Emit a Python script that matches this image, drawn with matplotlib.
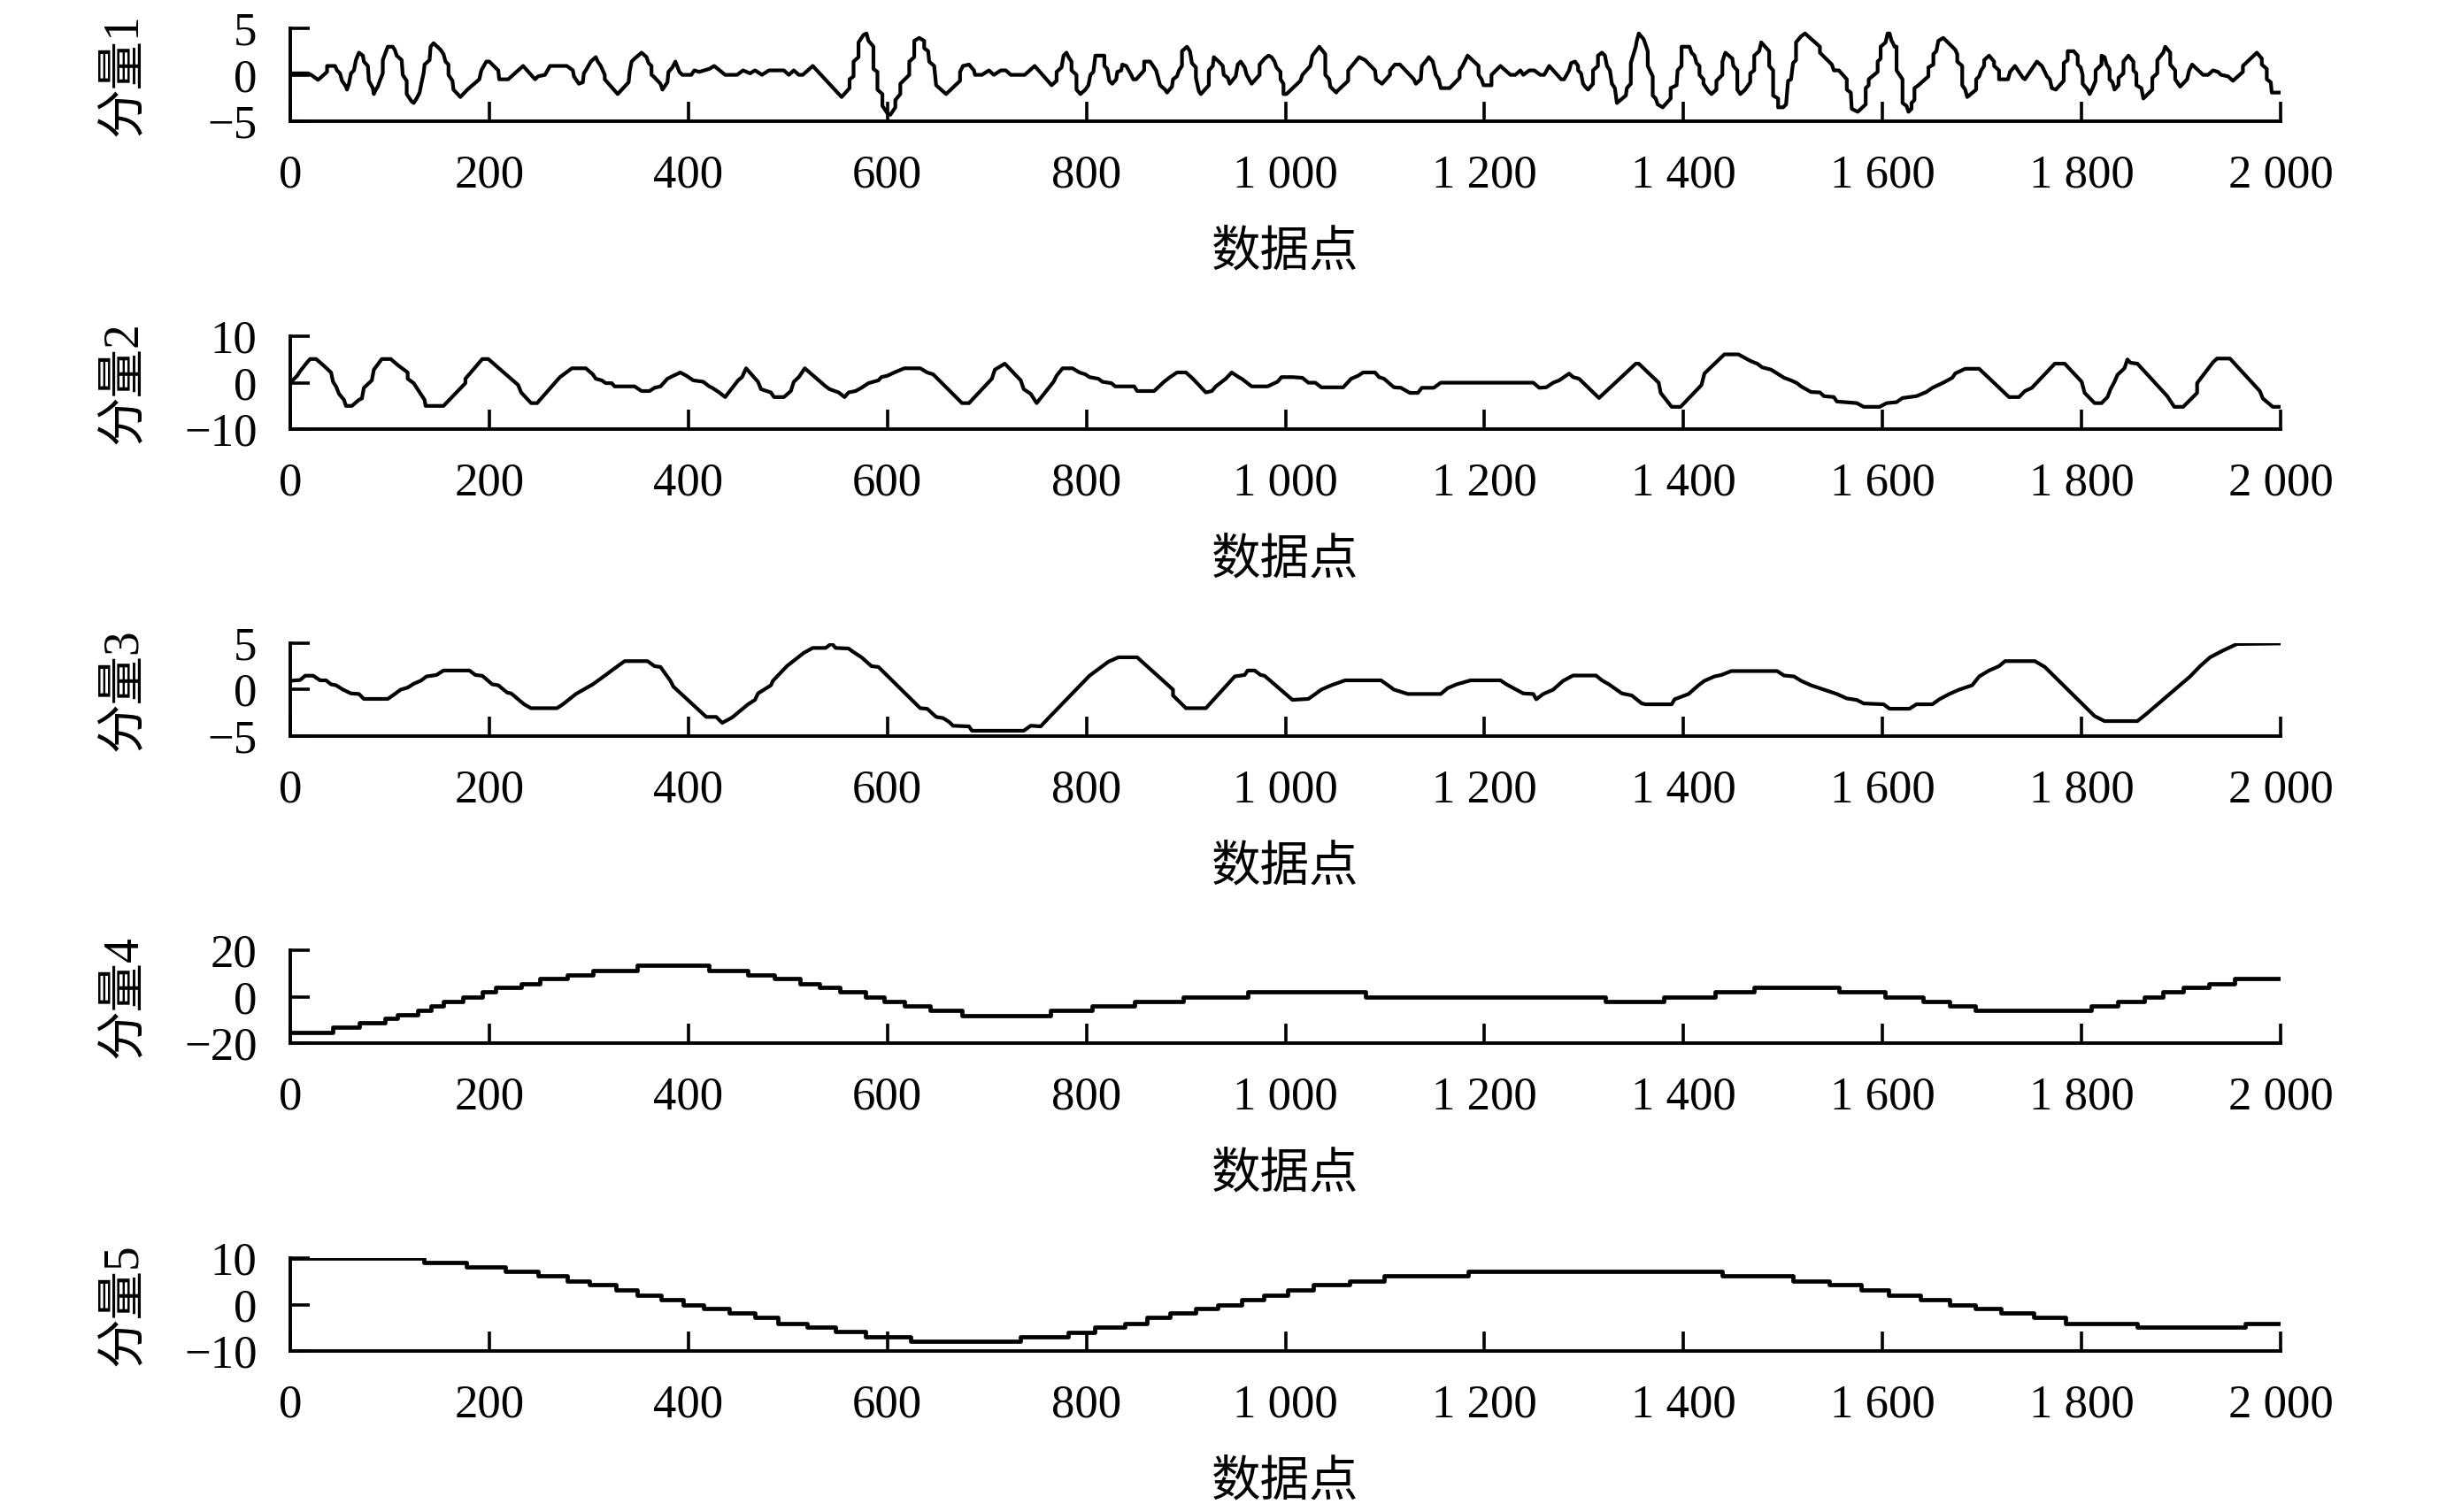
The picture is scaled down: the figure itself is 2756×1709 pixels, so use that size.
import matplotlib
matplotlib.use('Agg')
import matplotlib.pyplot as plt

plt.rcParams['font.family'] = ['Liberation Serif', 'Noto Sans CJK SC']
plt.rcParams['axes.unicode_minus'] = True

# ---------------- data ----------------
x_ticks = [0, 200, 400, 600, 800, 1000, 1200, 1400, 1600, 1800, 2000]
x_tick_labels = ['0', '200', '400', '600', '800', '1 000', '1 200', '1 400', '1 600', '1 800', '2 000']
x_label = '数据点'
y_labels = ['分量1', '分量2', '分量3', '分量4', '分量5']
y_limits = [5, 10, 5, 20, 10]

comp1_x = [0, 18, 21, 28, 37, 37, 45, 47, 50, 52, 56, 57, 59, 61, 64, 66, 69, 73, 74, 78, 79, 83, 84, 86, 88, 90,
           93, 93, 98, 103, 105, 107, 112, 113, 117, 117, 122, 124, 127, 130, 132, 134, 135, 140, 141, 144, 151,
           154, 156, 159, 159, 163, 164, 171, 178, 190, 192, 197, 200, 209, 210, 219, 234, 246, 249, 256, 261,
           278, 284, 285, 290, 294, 295, 297, 302, 307, 309, 312, 316, 316, 329, 340, 341, 343, 346, 353, 358,
           360, 363, 363, 365, 372, 374, 379, 380, 384, 387, 391, 394, 403, 406, 411, 416, 421, 426, 437, 449,
           455, 462, 467, 474, 481,
           491, 496, 501, 506, 511, 515, 525, 554, 562, 562, 566, 566, 571, 571, 576, 579, 581, 585, 586, 586,
           590, 590, 595, 595, 600, 603, 608, 608, 613, 613, 622, 622, 627, 627, 632, 637, 637, 641, 642, 647,
           649, 659, 673, 673, 676, 682, 687, 688, 695, 702, 707, 714, 719, 724, 738, 748, 761, 765, 770, 770,
           775, 777, 780, 782, 785, 785, 790, 790, 794, 799, 802, 804, 807, 809, 818, 818, 821, 823, 826, 830,
           831, 835, 836, 840, 845, 847, 850, 858, 858, 864, 870, 874, 879, 881, 886, 887, 891, 893, 896, 896,
           901, 904, 906, 910, 910, 913, 915, 923, 923, 927, 928, 933, 937, 938, 942, 944, 950, 952, 955, 959,
           961, 966, 974, 974, 979, 983, 986, 989, 991, 995, 995, 998, 998, 1001,
           1015, 1017, 1025, 1027, 1034, 1040, 1040, 1044, 1045, 1051, 1052, 1063, 1063, 1074, 1080, 1090, 1091,
           1097, 1105, 1105, 1110, 1115, 1129, 1131, 1136, 1137, 1142, 1144, 1148, 1151, 1154, 1156, 1165, 1175,
           1175, 1178, 1183, 1194, 1194, 1197, 1199, 1207, 1207, 1216, 1226, 1231, 1236, 1239, 1245, 1250, 1256,
           1260, 1265, 1277, 1280, 1285, 1287, 1291, 1294, 1294, 1297, 1299, 1301, 1304, 1309, 1309, 1314, 1314,
           1318, 1321, 1323, 1326, 1328, 1331, 1333, 1342, 1343, 1347, 1347, 1352, 1353, 1355, 1360, 1364, 1364,
           1369, 1369, 1372, 1374, 1379, 1387, 1387, 1393, 1394, 1398, 1398, 1406, 1408, 1411, 1413, 1416, 1416,
           1420, 1420, 1425, 1428, 1433, 1433, 1439, 1439, 1442, 1449, 1450, 1454, 1454, 1457, 1462, 1464, 1467,
           1467, 1471, 1471, 1476, 1478, 1486, 1486, 1490, 1490, 1495, 1495, 1500, 1503,
           1505, 1508, 1510, 1513, 1513, 1518, 1522, 1537, 1537, 1549, 1551, 1556, 1564, 1564, 1568, 1569, 1575,
           1583, 1583, 1586, 1586, 1595, 1595, 1598, 1598, 1603, 1605, 1607, 1609, 1610, 1612, 1614, 1614, 1617,
           1620, 1620, 1624, 1626, 1629, 1629, 1632, 1632, 1636, 1646, 1646, 1651, 1651, 1654, 1656, 1661, 1673,
           1675, 1675, 1680, 1680, 1683, 1685, 1694, 1694, 1697, 1699, 1702, 1702, 1707, 1712, 1712, 1717, 1717,
           1726, 1728, 1733, 1741, 1743, 1755, 1760, 1763, 1765, 1768, 1770, 1774, 1782, 1782, 1786, 1786, 1792,
           1796, 1796, 1799, 1801, 1801, 1806, 1808, 1811, 1814, 1814, 1820, 1820, 1823, 1825, 1828, 1828, 1831,
           1833, 1837, 1837, 1842, 1842, 1847, 1852, 1852, 1855, 1855, 1860, 1862, 1871, 1871, 1876, 1876, 1882,
           1884, 1889, 1889, 1894, 1894, 1899, 1906, 1908, 1911, 1922, 1927, 1932, 1937, 1940, 1947, 1952, 1962,
           1962, 1976, 1981, 1981, 1986, 1986, 1990, 1991, 2000]
comp1_y = [0.16, 0.16, 0, -0.54, 0.32, 0.96, 0.96, 0.48, 0.16, -0.64, -1.27, -1.59, -0.96, 0.16, 0.48, 1.59, 2.39,
           2.07, 1.43, 0.96, -0.64, -1.43, -2.07, -1.59, -1.27, -0.64, 0.16, 1.59, 3.03, 3.03, 2.71, 2.07, 1.59, 0,
           -0.64, -2.07, -2.87, -3.03, -2.55, -1.91, -0.80, 0.16, 1.11, 1.59, 3.03, 3.41, 2.71, 2.23, 1.43, 1.11, 0,
           -0.64, -1.59, -2.39, -1.59, -0.48, 0.48, 1.43, 1.43, 0.48, -0.48, -0.48, 0.96, -0.48, -0.16, 0, 0.96,
           0.96, 0.48, -0.16, -0.96, -0.80, 0.16, 0.48, 1.43, 1.91, 1.43, 0.96, 0, -0.48, -2.07, -0.80, 0.32, 1.43,
           1.75, 2.39, 1.91, 1.27, 0.96, 0, -0.16, -0.96, -1.59, -0.80, 0.32, 0.80, 1.43, 0.32, 0, 0, 0.48, 0.32,
           0.48, 0.64, 0.96, 0, 0, 0.48, 0.16, 0.48, 0, 0.48,
           0.48, 0.48, 0, 0.48, 0, 0, 0.96, -2.39, -1.43, -0.48, -0.16, 1.43, 1.91, 3.50, 4.30, 4.46, 3.66, 3.18,
           3.03, 0.64, 0.32, -1.59, -2.07, -3.34, -4.14, -4.30, -3.50, -2.71, -2.07, -0.96, 0, 1.43, 1.91, 3.66,
           3.98, 3.66, 2.87, 2.55, 1.43, 0.96, -1.12, -2.07, -0.64, 0.32, 0.96, 1.11, 0.48, 0, 0, 0.48, 0, 0.48,
           0.48, 0, 0, 0.96, -0.64, -1.12, -0.64, 0.32, 0.80, 2.07, 2.39, 1.91, 1.43, 0.48, 0, -1.59, -2.07, -1.59,
           -1.12, 0, 0.32, 2.07, 2.07, 0.96, 0.64, -0.64, -0.96, -0.48, 0.32, 0.48, 1.11, 0.96, 0, -0.48, -0.48,
           0.48, 1.43, 1.43, 0.48, -1.12, -1.59, -1.91, -1.27, -0.48, -0.16, 0.48, 0.96, 2.55, 3.03, 2.55, 1.27,
           0.80, -0.32, -1.75, -2.07, -1.12, 0.48, 0.96, 1.91, 1.43, 0.96, 0, -0.32, -0.96, -0.16, 1.11, 1.43,
           0.80, 0, -0.96, 0, 1.11, 1.75, 2.07, 1.91, 1.43, 0.80, 0.32, -0.48, -0.96, -2.07, -2.07,
           -0.64, 0, 0.96, 2.07, 3.03, 2.23, 0, -0.48, -1.27, -1.91, -1.75, -0.64, 0.48, 1.91, 1.59, 0.48, -0.48,
           -0.96, 0, 0.48, 1.11, 1.11, -0.48, -0.96, -0.48, 0.96, 1.59, 1.91, 1.43, 0, -0.48, -1.43, -1.43, -0.32,
           0.48, 0.96, 2.07, 0.96, 0, -0.48, -1.12, -1.12, 0, 0.96, 0, 0, 0.48, 0, 0.48, 0.48, 0, 0, 0.96, -0.48,
           -0.48, 0.48, 1.27, 1.43, 0.96, 0.48, 0.16, -0.96, -1.27, -1.59, -0.96, 0.48, 0.96, 2.07, 2.39, 2.07,
           0.96, 0.48, -0.96, -1.43, -3.03, -2.23, -1.43, -0.96, 1.27, 3.03, 3.66, 4.46, 3.82, 2.55, 0.96, -0.16,
           -2.23, -2.55, -3.18, -3.50, -2.55, -1.43, -1.12, 0.48, 0.96, 3.03, 3.03, 2.39, 2.07, 1.27, 0.96, 0,
           -0.48, -0.96, -1.75, -2.07, -1.59, -0.64, 0, 1.43, 2.39, 1.75, 0.96, 0.48, -1.59, -2.07, -1.59, -1.27,
           -0.80, 0.16, 0.48, 2.07, 2.55, 3.50, 2.55, 0.96, 0.48, -2.23, -2.55, -3.50, -3.50, -3.18,
           -0.64, -0.48, 1.27, 1.59, 3.50, 4.14, 4.46, 3.03, 2.39, 1.11, 0.48, 0.48, -0.48, -1.59, -1.91, -3.66,
           -3.98, -3.18, -1.43, -1.12, -0.48, 0.32, 1.43, 1.75, 3.03, 3.50, 4.46, 4.46, 3.66, 3.50, 3.03, 3.03,
           0.48, 0, -0.48, -3.03, -3.34, -3.98, -3.66, -3.03, -2.71, -1.43, -1.12, -0.16, 0.80, 1.11, 2.23, 2.55,
           3.66, 3.98, 2.71, 2.23, 1.43, 0.96, -1.12, -1.59, -2.39, -1.59, -0.48, -0.16, 0.48, 0.96, 1.59, 2.07,
           1.43, 0.96, 0.48, -0.48, -0.48, 0.32, 0.96, -0.32, -0.48, 1.43, 0.96, 0.32, -0.16, -0.48, -1.43, -1.59,
           -0.64, 1.27, 1.59, 2.55, 2.55, 2.07, 1.11, 0.80, 0, -0.96, -1.59, -2.07, -1.43, -0.64, 0.48, 1.11, 2.07,
           1.91, 1.11, 0.64, -0.48, -0.80, -1.59, -1.12, -0.32, 0.16, 1.43, 2.07, 1.43, 0.48, 0.16, -1.12, -1.43,
           -2.55, -1.59, -0.32, 0.16, 1.59, 2.39, 3.03, 2.39, 1.11, 0.48, -0.48, -1.27, -0.48, 0.48, 1.11, 0, 0,
           0.48, 0.32, 0, -0.16, -0.64, 0.32, 0.96, 2.39, 1.75, 1.11, 0.64, -0.48, -0.80, -1.91, -1.91]

comp2_x = [0, 7, 10, 17, 20, 26, 33, 41, 43, 46, 49, 54, 56, 62, 69, 72, 74, 82, 84, 92, 101, 108, 118, 118, 124,
           128, 135, 136, 154, 176, 176, 193, 199, 229, 232, 242, 248, 271, 283, 297, 304, 307, 313, 317, 323,
           326, 346, 353, 361, 366, 372, 379, 385, 392, 398, 405, 415, 421, 424, 431, 437, 450, 454, 458, 470,
           473, 483, 486, 496, 503, 506, 511, 517, 538, 542, 551, 557, 561, 568, 574, 581, 591, 594, 600, 607,
           617, 633, 640, 646, 675, 682, 705, 708, 718, 734, 737, 744, 750, 767, 770, 776, 786, 793, 799, 803,
           812, 816, 825, 829, 848, 851, 868, 878, 884, 891, 900, 907, 920, 926, 930, 940, 946, 953, 956, 966,
           982, 992, 996, 1007,
           1017, 1023, 1030, 1036, 1058, 1066, 1073, 1078, 1090, 1094, 1099, 1109, 1116, 1125, 1133, 1137, 1149,
           1156, 1249, 1255, 1262, 1269, 1275, 1285, 1289, 1295, 1315, 1352, 1355, 1375, 1377, 1388, 1397, 1418,
           1421, 1441, 1455, 1461, 1468, 1474, 1479, 1488, 1494, 1501, 1508, 1514, 1518, 1528, 1537, 1541, 1551,
           1554, 1574, 1581, 1597, 1604, 1614, 1620, 1634, 1644, 1650, 1660, 1670, 1673, 1683, 1697, 1727, 1737,
           1743, 1750, 1773, 1783, 1800, 1803, 1813, 1820, 1826, 1829, 1833, 1836, 1843, 1846, 1849, 1856, 1886,
           1893, 1902, 1916, 1916, 1932, 1936, 1949, 1979, 1982, 1992, 2000]
comp2_y = [0, 1.5, 2.5, 4.4, 5.1, 5.1, 3.8, 2.2, 0.2, -0.8, -2.4, -3.7, -5.0, -5.0, -3.7, -3.4, -1.1, 0.5, 2.8,
           5.1, 5.1, 3.8, 2.2, 0.85, -0.1, -1.4, -3.7, -5.0, -5.0, -0.1, 0.85, 5.1, 5.1, -0.5, -2.1, -4.4, -4.4,
           1.2, 3.1, 3.1, 1.8, 0.85, 0.5, -0.1, -0.1, -0.8, -0.8, -1.8, -1.8, -1.1, -0.8, 0.85, 1.5, 2.2, 1.5, 0.5,
           0.2, -0.8, -1.1, -2.1, -3.1, 0.5, 1.2, 3.1, 0.2, -1.4, -2.1, -3.1, -3.1, -1.8, 0.2, 1.2, 3.1, -0.8,
           -1.4, -2.1, -3.1, -2.1, -1.8, -1.1, -0.1, 0.5, 1.2, 1.5, 2.2, 3.1, 3.1, 2.2, 1.8, -4.4, -4.4, 0.85,
           2.8, 4.1, 0.5, -1.4, -2.4, -4.4, 0.2, 1.5, 3.1, 3.1, 2.2, 1.8, 1.2, 0.85, 0.2, -0.1, -0.8, -0.8, -1.8,
           -1.8, 0.2, 1.2, 2.2, 2.2, 0.85, -2.1, -1.8, -0.8, 0.85, 2.2, 1.2, 0.85, -0.8, -0.8, 0.2, 1.2, 1.2,
           1.05, 0, 0, -1.0, -1.0, 0.85, 1.5, 2.2, 2.2, 1.2, 0.85, -1.0, -1.1, -2.2, -2.2, -1.1, -1.1, 0, 0, -1.1,
           -1.0, 0, 0.5, 1.96, 1.2, 0.85, -3.3, 4.1, 4.1, 0, -2.2, -5.2, -5.2, -0.5, 2.0, 6.1, 6.1, 5.4, 4.6, 4.1,
           3.3, 2.8, 2.0, 1.05, 0.5, -0.1, -0.8, -2.0, -2.1, -2.9, -3.1, -4.05, -4.4, -5.2, -5.2, -4.4, -4.2, -3.3,
           -2.9, -2.0, -1.1, -0.1, 1.05, 2.0, 3.0, 3.0, -3.1, -3.1, -1.8, -1.1, 4.1, 4.1, 0.2, -2.2, -4.4, -4.4,
           -3.1, -1.4, 0.2, 1.7, 3.1, 5.0, 4.3, 4.1, -2.9, -5.2, -5.2, -2.2, -0.1, 4.4, 5.2, 5.2, -1.8, -3.4,
           -5.2, -5.2]

comp3_x = [0, 10, 15, 23, 30, 36, 41, 46, 53, 61, 69, 74, 98, 105, 111, 118, 124, 131, 137, 147, 154, 180, 186,
           193, 203, 209, 218, 222, 235, 242, 268, 274, 287, 304, 317, 323, 336, 359, 366, 372, 382, 385, 418,
           428, 434, 444, 460, 467, 470, 483, 485, 499, 516, 525, 538, 544, 548, 561, 565, 574, 584, 591, 633,
           640, 649, 656, 662, 666, 682, 685, 737, 744, 754, 763, 803, 822, 832, 851, 887, 887, 900, 920, 949,
           959, 962, 969, 975, 979, 994, 1007,
           1023, 1030, 1036, 1046, 1060, 1096, 1103, 1109, 1123, 1156, 1163, 1172, 1186, 1216, 1222, 1229, 1239,
           1249, 1252, 1259, 1269, 1279, 1289, 1312, 1318, 1325, 1338, 1348, 1358, 1362, 1388, 1391, 1405, 1415,
           1421, 1431, 1438, 1448, 1494, 1501, 1511, 1518, 1528, 1541, 1554, 1564, 1574, 1581, 1601, 1607, 1627,
           1634, 1650, 1657, 1667, 1677, 1690, 1697, 1707, 1717, 1723, 1753, 1763, 1813, 1823, 1856, 1866, 1909,
           1919, 1929, 1942, 1956, 2000]
comp3_y = [0.95, 1.04, 1.5, 1.5, 1.0, 1.0, 0.57, 0.47, 0, -0.41, -0.47, -1.0, -1.0, -0.47, 0, 0.22, 0.63, 0.95,
           1.42, 1.58, 2.06, 2.06, 1.58, 1.49, 0.57, 0.47, -0.32, -0.41, -1.58, -2.0, -2.0, -1.58, -0.47, 0.57,
           1.58, 2.06, 3.07, 3.07, 2.53, 2.44, 0.95, 0.32, -2.94, -2.94, -3.58, -3.0, -1.58, -1.1, -0.41, 0.47,
           0.95, 2.53, 3.96, 4.49, 4.49, 4.97, 4.49, 4.43, 4.11, 3.48, 2.53, 2.44, -2.0, -2.06, -2.94, -3.07,
           -3.48, -3.89, -3.96, -4.43, -4.43, -3.89, -3.96, -2.94, 1.49, 3.0, 3.48, 3.48, 0, -0.63, -2.0, -2.0,
           1.42, 1.58, 2.06, 2.06, 1.58, 1.49, 0.1, -1.1,
           -1.0, -0.47, 0, 0.47, 1.0, 1.0, 0.47, 0, -0.47, -0.47, 0.16, 0.57, 1.0, 1.0, 0.57, 0.16, -0.41, -0.47,
           -1.04, -0.47, 0, 0.95, 1.52, 1.52, 1.0, 0.57, -0.41, -0.63, -1.49, -1.58, -1.58, -1.04, -0.47, 0.47,
           0.95, 1.42, 1.58, 2.0, 2.0, 1.52, 1.42, 0.95, 0.47, 0, -0.47, -0.95, -1.11, -1.49, -1.58, -2.06, -2.06,
           -1.58, -1.58, -1.04, -0.47, 0, 0.47, 1.42, 2.06, 2.53, 3.07, 3.07, 2.44, -2.85, -3.39, -3.39, -2.53,
           1.42, 2.53, 3.48, 4.21, 4.91, 4.97]

comp4_x = [0, 43, 69, 95, 108, 128, 141, 154, 173, 193, 206, 232, 251, 278, 304, 349, 421, 460, 486, 512, 532, 552,
           578, 597, 617, 643, 675, 764, 806, 848, 897, 962, 1080, 1321, 1380, 1432, 1471, 1556, 1602, 1641, 1667,
           1693, 1810, 1836, 1863, 1882, 1902, 1928, 1954, 2000]
comp4_y = [-15.4, -13.3, -11.2, -9.4, -7.6, -5.8, -4.0, -1.9, 0, 2.0, 3.9, 5.7, 7.7, 9.5, 11.3, 13.5, 11.3, 9.5,
           7.7, 5.7, 3.9, 2.0, 0, -1.9, -4.0, -5.8, -8.0, -6.0, -4.0, -1.9, 0, 2.0, 0, -2.2, 0, 2.0, 3.9, 2.0, 0,
           -1.9, -4.0, -5.8, -4.0, -1.9, 0, 2.0, 3.9, 5.7, 7.7, 7.7]

comp5_x = [0, 134, 177, 216, 249, 278, 301, 327, 349, 373, 395, 415, 441, 467, 490, 519, 548, 578, 623, 734, 782,
           808, 839, 861, 884, 910, 932, 956, 978, 1002, 1028, 1064, 1099, 1184, 1439, 1510, 1546, 1578, 1606,
           1638, 1667, 1693, 1719, 1752, 1784, 1856, 1964, 2000]
comp5_y = [10, 9.0, 8.1, 7.1, 6.2, 5.1, 4.2, 3.2, 2.1, 1.0, 0, -0.9, -1.9, -2.8, -4.0, -4.9, -5.9, -7.0, -8.0,
           -7.0, -6.0, -4.9, -4.0, -2.8, -1.9, -0.9, 0, 1.0, 2.1, 3.2, 4.2, 5.1, 6.2, 7.1, 6.2, 5.1, 4.2, 3.2, 2.1,
           1.0, 0, -0.9, -1.9, -2.8, -4.0, -4.9, -4.0, -4.0]

series = [(comp1_x, comp1_y, False), (comp2_x, comp2_y, False), (comp3_x, comp3_y, False),
          (comp4_x, comp4_y, True), (comp5_x, comp5_y, True)]

# ---------------- layout ----------------
fig = plt.figure(figsize=(13.78, 8.545), dpi=200)
left, width, height = 0.1190, 0.8161, 0.0614
bottoms = [0.9198, 0.7162, 0.5132, 0.3101, 0.1065]

for i, (xs, ys, stepped) in enumerate(series):
    ax = fig.add_axes([left, bottoms[i], width, height])
    if stepped:
        ax.plot(xs, ys, color='black', lw=1.7, drawstyle='steps-post')
    else:
        ax.plot(xs, ys, color='black', lw=1.5)
    lim = y_limits[i]
    ax.set_xlim(0, 2000)
    ax.set_ylim(-lim, lim)
    for s in ['top', 'right']:
        ax.spines[s].set_visible(False)
    for s in ['left', 'bottom']:
        ax.spines[s].set_linewidth(1.4)
    ax.set_xticks(x_ticks, x_tick_labels)
    ax.set_yticks([-lim, 0, lim], ['\u2212%d' % lim, '0', '%d' % lim])
    ax.tick_params(direction='in', length=8, width=1.3, labelsize=19, pad=13.5)
    ax.set_xlabel(x_label, fontsize=20, labelpad=13.5)
    ax.set_ylabel(y_labels[i], fontsize=20)
    ax.yaxis.set_label_coords(-0.072, 0.5)

fig.savefig('out.png', dpi=200)
